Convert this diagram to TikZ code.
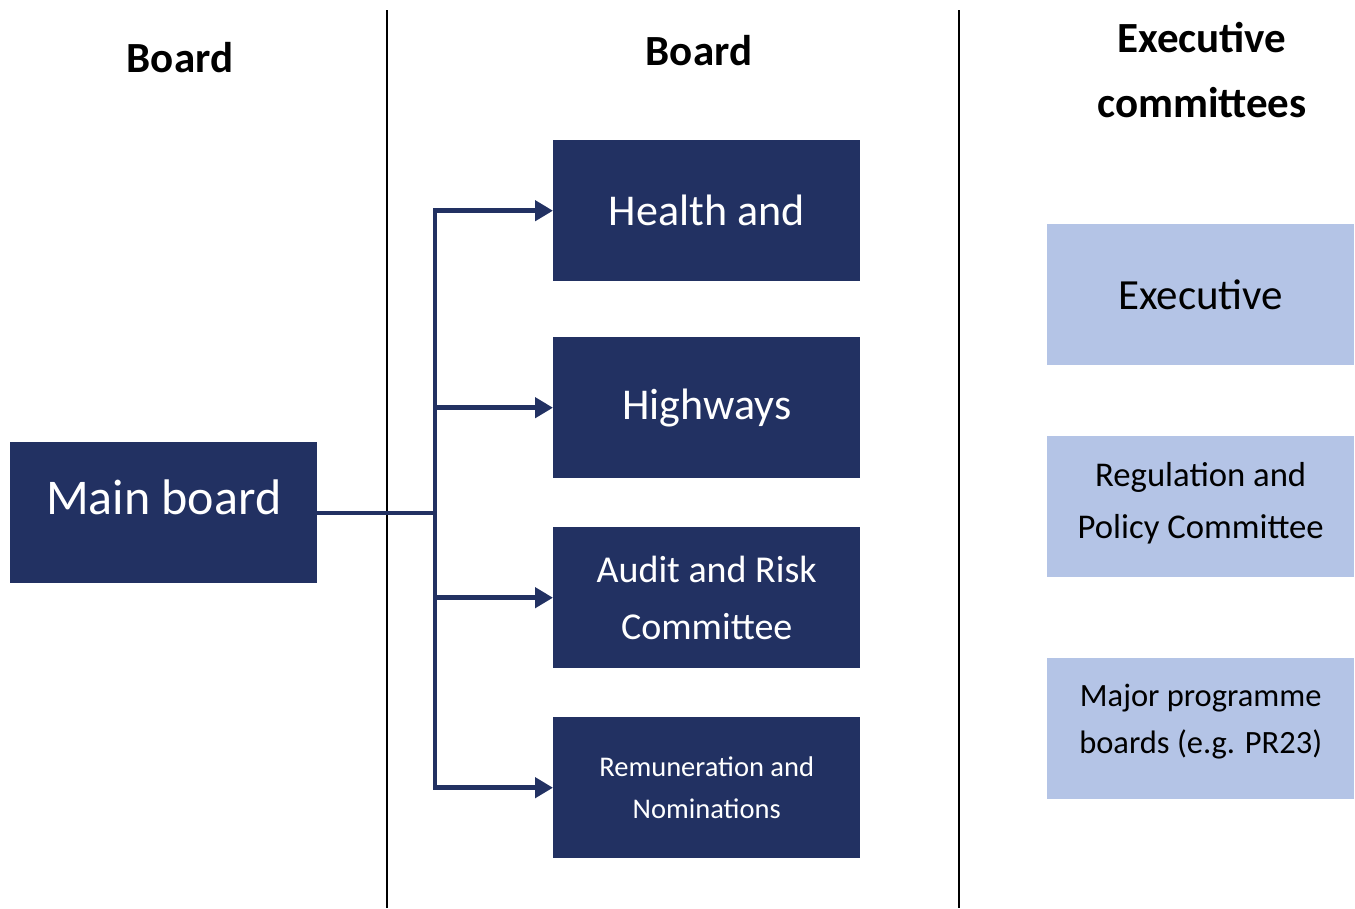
\documentclass[tikz,border=0pt]{standalone}
\usepackage{fontspec}
\setmainfont{Carlito}
\usetikzlibrary{arrows.meta}
\definecolor{navy}{HTML}{223162}
\definecolor{lightblue}{HTML}{B4C4E6}
\tikzset{
  darkbox/.style={fill=navy, text=white, minimum width=307pt, minimum height=141pt, inner sep=0pt, align=center, anchor=north west},
  lightbox/.style={fill=lightblue, text=black, minimum width=307pt, minimum height=141pt, inner sep=0pt, align=center, anchor=north west},
  head/.style={font=\fontsize{43}{65}\selectfont\bfseries, align=center},
  divider/.style={black, line width=1.3pt},
  conn/.style={navy, line width=4.5pt},
  arr/.style={conn, -{Triangle[length=18pt, width=20pt]}},
}
\begin{document}
\begin{tikzpicture}[x=1pt, y=-1pt]
\useasboundingbox (0,0) rectangle (1355,908);
% dividers
\coordinate (d1t) at (387,10); \coordinate (d1b) at (387,908);
\coordinate (d2t) at (959,10); \coordinate (d2b) at (959,908);
\draw[divider] (d1t) -- (d1b);
\draw[divider] (d2t) -- (d2b);
% headers
\node[head] (h1) at (180,58) {Board};
\node[head] (h2) at (699,51) {Board};
\node[head] (h3) at (1202,70) {Executive\\committees};
% boxes
\node[darkbox] (main) at (10,442) {};
\node[text=white, font=\fontsize{50}{60}\selectfont] (maint) at ([yshift=15pt]main.center) {Main board};
\node[darkbox, font=\fontsize{44}{60}\selectfont] (hs) at (553,140) {Health and};
\node[darkbox, font=\fontsize{44}{60}\selectfont] (hw) at (553,337) {Highways};
\node[darkbox, font=\fontsize{38}{57}\selectfont] (ar) at (553,527) {Audit and Risk\\Committee};
\node[darkbox, font=\fontsize{28.5}{42}\selectfont] (rn) at (553,717) {Remuneration and\\Nominations};
\node[lightbox, font=\fontsize{43}{60}\selectfont] (ex) at (1047,224) {Executive};
\node[lightbox, font=\fontsize{34.7}{52}\selectfont] (rp) at (1047,436) {};
\node[font=\fontsize{34.7}{52}\selectfont, align=center] (rpt) at ([yshift=3pt]rp.center) {Regulation and\\Policy Committee};
\node[lightbox, font=\fontsize{32.5}{47}\selectfont] (mp) at (1047,658) {};
\node[font=\fontsize{32.5}{47}\selectfont, align=center] (mpt) at ([yshift=7pt]mp.center) {Major programme\\boards (e.g. PR23)};
% connectors
\coordinate (j) at (435,513);
\draw[conn] (main.east |- j) -- (j);
\draw[conn] (j) -- (435,211);
\draw[conn] (j) -- (435,789);
\draw[arr] (j) |- (hs.west);
\draw[arr] (j) |- (hw.west);
\draw[arr] (j) |- (ar.west);
\draw[arr] (j) |- (rn.west);
\end{tikzpicture}
\end{document}
